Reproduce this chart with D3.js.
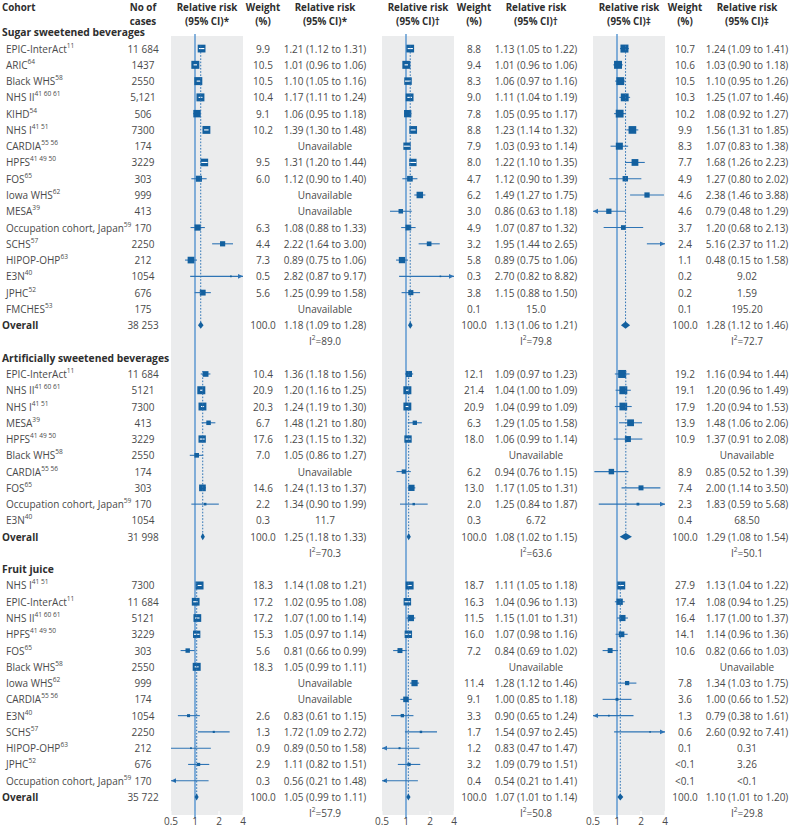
<!DOCTYPE html>
<html><head><meta charset="utf-8">
<script src="https://cdn.jsdelivr.net/npm/d3@7"></script>
<style>body{margin:0;background:#fff} svg{display:block}</style>
</head><body><svg id="c" width="790" height="828"></svg>
<script>
// ---------- DATA ----------
const sectionNames = ["Sugar sweetened beverages", "Artificially sweetened beverages", "Fruit juice"];
const panelMarks = ["*", "†", "‡"];
const tickValues = [0.5, 1, 2, 4];
const tickLabels = ["0.5", "1", "2", "4"];

// Sugar sweetened beverages
const ssbCohorts = ["EPIC-InterAct","ARIC","Black WHS","NHS II","KIHD","NHS I","CARDIA","HPFS","FOS","Iowa WHS","MESA","Occupation cohort, Japan","SCHS","HIPOP-OHP","E3N","JPHC","FMCHES"];
const ssbRefs = ["11","64","58","41 60 61","54","41 51","55 56","41 49 50","65","62","39","59","57","63","40","52","53"];
const ssbCases = ["11 684","1437","2550","5,121","506","7300","174","3229","303","999","413","170","2250","212","1054","676","175"];
// [weight %, RR, lower, upper]; null = Unavailable
const ssbP1 = [["9.9","1.21","1.12","1.31"],["10.5","1.01","0.96","1.06"],["10.5","1.10","1.05","1.16"],["10.4","1.17","1.11","1.24"],["9.1","1.06","0.95","1.18"],["10.2","1.39","1.30","1.48"],null,["9.5","1.31","1.20","1.44"],["6.0","1.12","0.90","1.40"],null,null,["6.3","1.08","0.88","1.33"],["4.4","2.22","1.64","3.00"],["7.3","0.89","0.75","1.06"],["0.5","2.82","0.87","9.17"],["5.6","1.25","0.99","1.58"],null];
const ssbP2 = [["8.8","1.13","1.05","1.22"],["9.4","1.01","0.96","1.06"],["8.3","1.06","0.97","1.16"],["9.0","1.11","1.04","1.19"],["7.8","1.05","0.95","1.17"],["8.8","1.23","1.14","1.32"],["7.9","1.03","0.93","1.14"],["8.0","1.22","1.10","1.35"],["4.7","1.12","0.90","1.39"],["6.2","1.49","1.27","1.75"],["3.0","0.86","0.63","1.18"],["4.9","1.07","0.87","1.32"],["3.2","1.95","1.44","2.65"],["5.8","0.89","0.75","1.06"],["0.3","2.70","0.82","8.82"],["3.8","1.15","0.88","1.50"],["0.1","15.0",null,null]];
const ssbP3 = [["10.7","1.24","1.09","1.41"],["10.6","1.03","0.90","1.18"],["10.5","1.10","0.95","1.26"],["10.3","1.25","1.07","1.46"],["10.2","1.08","0.92","1.27"],["9.9","1.56","1.31","1.85"],["8.3","1.07","0.83","1.38"],["7.7","1.68","1.26","2.23"],["4.9","1.27","0.80","2.02"],["4.6","2.38","1.46","3.88"],["4.6","0.79","0.48","1.29"],["3.7","1.20","0.68","2.13"],["2.4","5.16","2.37","11.2"],["1.1","0.48","0.15","1.58"],["0.2","9.02",null,null],["0.2","1.59",null,null],["0.1","195.20",null,null]];
const ssbOverallCases = "38 253";
const ssbOverall = [["100.0","1.18","1.09","1.28"],["100.0","1.13","1.06","1.21"],["100.0","1.28","1.12","1.46"]];
const ssbI2 = ["89.0","79.8","72.7"];

// Artificially sweetened beverages
const asbCohorts = ["EPIC-InterAct","NHS II","NHS I","MESA","HPFS","Black WHS","CARDIA","FOS","Occupation cohort, Japan","E3N"];
const asbRefs = ["11","41 60 61","41 51","39","41 49 50","58","55 56","65","59","40"];
const asbCases = ["11 684","5121","7300","413","3229","2550","174","303","170","1054"];
const asbP1 = [["10.4","1.36","1.18","1.56"],["20.9","1.20","1.16","1.25"],["20.3","1.24","1.19","1.30"],["6.7","1.48","1.21","1.80"],["17.6","1.23","1.15","1.32"],["7.0","1.05","0.86","1.27"],null,["14.6","1.24","1.13","1.37"],["2.2","1.34","0.90","1.99"],["0.3","11.7",null,null]];
const asbP2 = [["12.1","1.09","0.97","1.23"],["21.4","1.04","1.00","1.09"],["20.9","1.04","0.99","1.09"],["6.3","1.29","1.05","1.58"],["18.0","1.06","0.99","1.14"],null,["6.2","0.94","0.76","1.15"],["13.0","1.17","1.05","1.31"],["2.0","1.25","0.84","1.87"],["0.3","6.72",null,null]];
const asbP3 = [["19.2","1.16","0.94","1.44"],["19.1","1.20","0.96","1.49"],["17.9","1.20","0.94","1.53"],["13.9","1.48","1.06","2.06"],["10.9","1.37","0.91","2.08"],null,["8.9","0.85","0.52","1.39"],["7.4","2.00","1.14","3.50"],["2.3","1.83","0.59","5.68"],["0.4","68.50",null,null]];
const asbOverallCases = "31 998";
const asbOverall = [["100.0","1.25","1.18","1.33"],["100.0","1.08","1.02","1.15"],["100.0","1.29","1.08","1.54"]];
const asbI2 = ["70.3","63.6","50.1"];

// Fruit juice
const fjCohorts = ["NHS I","EPIC-InterAct","NHS II","HPFS","FOS","Black WHS","Iowa WHS","CARDIA","E3N","SCHS","HIPOP-OHP","JPHC","Occupation cohort, Japan"];
const fjRefs = ["41 51","11","41 60 61","41 49 50","65","58","62","55 56","40","57","63","52","59"];
const fjCases = ["7300","11 684","5121","3229","303","2550","999","174","1054","2250","212","676","170"];
const fjP1 = [["18.3","1.14","1.08","1.21"],["17.2","1.02","0.95","1.08"],["17.2","1.07","1.00","1.14"],["15.3","1.05","0.97","1.14"],["5.6","0.81","0.66","0.99"],["18.3","1.05","0.99","1.11"],null,null,["2.6","0.83","0.61","1.15"],["1.3","1.72","1.09","2.72"],["0.9","0.89","0.50","1.58"],["2.9","1.11","0.82","1.51"],["0.3","0.56","0.21","1.48"]];
const fjP2 = [["18.7","1.11","1.05","1.18"],["16.3","1.04","0.96","1.13"],["11.5","1.15","1.01","1.31"],["16.0","1.07","0.98","1.16"],["7.2","0.84","0.69","1.02"],null,["11.4","1.28","1.12","1.46"],["9.1","1.00","0.85","1.18"],["3.3","0.90","0.65","1.24"],["1.7","1.54","0.97","2.45"],["1.2","0.83","0.47","1.47"],["3.2","1.09","0.79","1.51"],["0.4","0.54","0.21","1.41"]];
const fjP3 = [["27.9","1.13","1.04","1.22"],["17.4","1.08","0.94","1.25"],["16.4","1.17","1.00","1.37"],["14.1","1.14","0.96","1.36"],["10.6","0.82","0.66","1.03"],null,["7.8","1.34","1.03","1.75"],["3.6","1.00","0.66","1.52"],["1.3","0.79","0.38","1.61"],["0.6","2.60","0.92","7.41"],["0.1","0.31",null,null],["<0.1","3.26",null,null],["<0.1","<0.1",null,null]];
const fjOverallCases = "35 722";
const fjOverall = [["100.0","1.05","0.99","1.11"],["100.0","1.07","1.01","1.14"],["100.0","1.10","1.01","1.20"]];
const fjI2 = ["57.9","50.8","29.8"];

// ---------- TABLE ----------
const sections = [
  {name: sectionNames[0], cohorts: ssbCohorts, refs: ssbRefs, cases: ssbCases, panels: [ssbP1, ssbP2, ssbP3], oCases: ssbOverallCases, overall: ssbOverall, i2: ssbI2},
  {name: sectionNames[1], cohorts: asbCohorts, refs: asbRefs, cases: asbCases, panels: [asbP1, asbP2, asbP3], oCases: asbOverallCases, overall: asbOverall, i2: asbI2},
  {name: sectionNames[2], cohorts: fjCohorts, refs: fjRefs, cases: fjCases, panels: [fjP1, fjP2, fjP3], oCases: fjOverallCases, overall: fjOverall, i2: fjI2}
];

// ---------- LAYOUT ----------
const FONT = '"Open Sans", "DejaVu Sans", sans-serif';
const TXT = "#4a4a4a", HEAD = "#2e2e2e";
const BLUE = "#13609f", REF = "#5393cf", CI = "#2e74b5";
const panelX0 = [171, 382, 593], PW = 72, PSTEP = 211;
const ROW0 = 32.3, ROWH = 16.27;
const rowY = r => ROW0 + r * ROWH;
const xCases = 143, xCohort = 6;
const GREY_TOP = 36, GREY_BOT = 815;
const FS = 10;

const svg = d3.select("#c");
const scales = panelX0.map(x0 => d3.scaleLog().domain([0.5, 4]).range([x0, x0 + PW]));

// grey bands + reference lines
const gBack = svg.append("g");
scales.forEach((xs, p) => {
  gBack.append("rect").attr("x", xs(0.5)).attr("y", GREY_TOP).attr("width", xs(4) - xs(0.5)).attr("height", GREY_BOT - GREY_TOP).attr("fill", "#ebeced");
  tickValues.forEach(t => {
    gBack.append("line").attr("x1", xs(t)).attr("x2", xs(t)).attr("y1", GREY_BOT - 4).attr("y2", GREY_BOT).attr("stroke", "#fff").attr("stroke-width", 1);
  });
  gBack.append("line").attr("x1", xs(1)).attr("x2", xs(1)).attr("y1", GREY_TOP - 2).attr("y2", GREY_BOT + 3).attr("stroke", REF).attr("stroke-width", 1.4);
  svg.append("g").selectAll("text").data(tickValues).join("text")
    .attr("x", d => xs(d)).attr("y", 820.5).attr("text-anchor", "middle").attr("dominant-baseline", "central")
    .style("font-family", FONT).style("font-size", FS + "px").attr("fill", TXT)
    .text((d, i) => tickLabels[i]);
});

function txt(x, y, s, anchor, bold, color, size) {
  return svg.append("text").attr("x", x).attr("y", y).attr("text-anchor", anchor || "start")
    .attr("dominant-baseline", "central")
    .style("font-family", FONT).style("font-size", (size || FS) + "px")
    .style("font-weight", bold ? 700 : 400).attr("fill", color || TXT).text(s);
}

// header
const H1 = 7.5, H2 = 21, HS = 9.8;
txt(2, H1, "Cohort", "start", true, HEAD, HS);
txt(xCases, H1, "No of", "middle", true, HEAD, HS);
txt(xCases, H2, "cases", "middle", true, HEAD, HS);
panelX0.forEach((x0, p) => {
  const off = p * PSTEP;
  txt(x0 + PW / 2, H1, "Relative risk", "middle", true, HEAD, HS);
  txt(x0 + PW / 2, H2, "(95% CI)" + panelMarks[p], "middle", true, HEAD, HS);
  txt(263 + off, H1, "Weight", "middle", true, HEAD, HS);
  txt(263 + off, H2, "(%)", "middle", true, HEAD, HS);
  txt(325 + off, H1, "Relative risk", "middle", true, HEAD, HS);
  txt(325 + off, H2, "(95% CI)" + panelMarks[p], "middle", true, HEAD, HS);
});

const gMarks = svg.append("g");

function arrowHead(x, y, dir) {
  const L = 5, h = 2.4;
  gMarks.append("path").attr("d", `M${x},${y}L${x - dir * L},${y - h}L${x - dir * L},${y + h}Z`).attr("fill", CI);
}

function drawStudy(xs, y, e, size) {
  const est = parseFloat(e[1]), lo = parseFloat(e[2]), hi = parseFloat(e[3]);
  if (!(est >= 0.5)) return;
  const a = Math.max(lo, 0.5), b = Math.min(hi, 4);
  gMarks.append("line").attr("x1", xs(a)).attr("x2", xs(b)).attr("y1", y).attr("y2", y).attr("stroke", CI).attr("stroke-width", 1.1);
  if (lo < 0.5) arrowHead(xs(0.5), y, -1);
  if (hi > 4) arrowHead(xs(4), y, 1);
  if (est <= 4) {
    const cx = xs(est);
    gMarks.append("rect").attr("x", cx - size / 2).attr("y", y - size / 2).attr("width", size).attr("height", size).attr("fill", BLUE);
    if (xs(lo) >= cx - size / 2 && xs(hi) <= cx + size / 2) {
      gMarks.append("line").attr("x1", xs(lo)).attr("x2", xs(hi)).attr("y1", y).attr("y2", y).attr("stroke", "#fff").attr("stroke-width", 1.1);
    }
  }
}

function supLabel(x, y, main, sup, bold) {
  const t = txt(x, y, "", "start", bold);
  t.append("tspan").text(main);
  if (sup) t.append("tspan").attr("dy", -4).style("font-size", "6.6px").text(sup);
  return t;
}

let r = 0;
sections.forEach(sec => {
  txt(2, rowY(r), sec.name, "start", true, HEAD, 10.3);
  r++;
  const first = r;
  sec.cohorts.forEach((c, j) => {
    const y = rowY(r);
    supLabel(xCohort, y, c, sec.refs[j], false);
    txt(xCases, y, sec.cases[j], "middle");
    sec.panels.forEach((arr, p) => {
      const e = arr[j], off = p * PSTEP;
      if (!e) { txt(325 + off, y, "Unavailable", "middle"); return; }
      txt(263 + off, y, e[0], "middle");
      txt(325 + off, y, e[2] ? `${e[1]} (${e[2]} to ${e[3]})` : e[1], "middle");
      if (e[2]) {
        const maxW = d3.max(arr, d => d ? (parseFloat(d[0]) || 0) : 0);
        const sz = Math.max(1.6, d3.scaleSqrt().domain([0, maxW]).range([0, 8])(parseFloat(e[0])));
        drawStudy(scales[p], y, e, sz);
      }
    });
    r++;
  });
  // overall
  const yo = rowY(r);
  txt(2, yo, "Overall", "start", true, HEAD);
  txt(xCases, yo, sec.oCases, "middle");
  sec.overall.forEach((o, p) => {
    const off = p * PSTEP, xs = scales[p];
    txt(263 + off, yo, o[0], "middle");
    txt(325 + off, yo, `${o[1]} (${o[2]} to ${o[3]})`, "middle");
    const est = parseFloat(o[1]), lo = parseFloat(o[2]), hi = parseFloat(o[3]);
    gMarks.append("line").attr("x1", xs(est)).attr("x2", xs(est)).attr("y1", rowY(first) - 3).attr("y2", yo)
      .attr("stroke", CI).attr("stroke-width", 1).attr("stroke-dasharray", "1.6,1.6");
    gMarks.append("path").attr("d", `M${xs(lo)},${yo}L${xs(est)},${yo - 3.6}L${xs(hi)},${yo}L${xs(est)},${yo + 3.6}Z`).attr("fill", BLUE);
  });
  r++;
  // I2
  const yi = rowY(r);
  sec.i2.forEach((v, p) => {
    const t = txt(325 + p * PSTEP, yi, "", "middle");
    t.append("tspan").text("I");
    t.append("tspan").attr("dy", -4).style("font-size", "6.6px").text("2");
    t.append("tspan").attr("dy", 4).text("=" + v);
  });
  r++;
});
</script>
</body></html>
